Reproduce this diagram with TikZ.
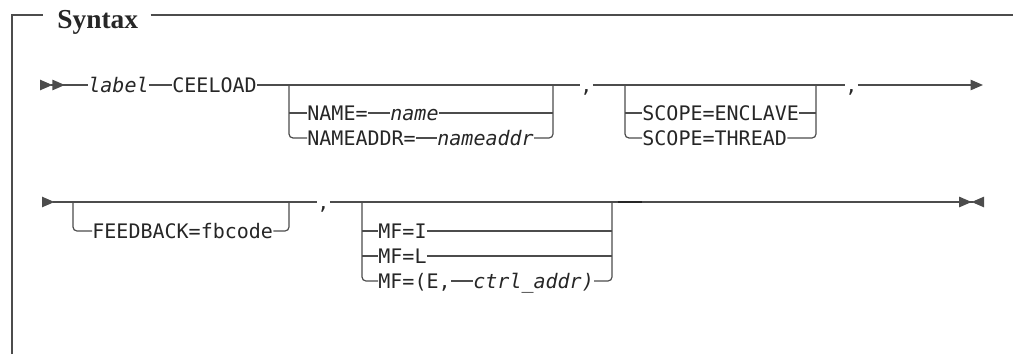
\documentclass[tikz,border=0pt]{standalone}
\usepackage{fontspec}
\newfontfamily\railfont{DejaVu Sans Mono}
\newfontfamily\titlefont{Liberation Serif}
\usetikzlibrary{arrows.meta, positioning}

\begin{document}
\begin{tikzpicture}[
x=0.5pt, y=-0.5pt,
every node/.style={inner sep=0pt, anchor=west, text height=9.3pt, text depth=2pt, text=black!85, font=\railfont\fontsize{10}{12}\selectfont},
var/.style={font=\railfont\itshape\fontsize{10}{12}\selectfont},
rail/.style={draw=black!70, line width=0.6pt},
alt/.style={rail, rounded corners=2pt},
railtip/.tip={Triangle[length=6.2pt, width=5.2pt]}
]
\useasboundingbox (0,0) rectangle (1013,354);

% frame
\coordinate (fbot) at (12,354);
\coordinate (ftop) at (12,15);
\coordinate (fright) at (1013,15);
\node (title) [font=\titlefont\bfseries\fontsize{13.7}{16}\selectfont, text height=15pt, text depth=2pt] at (57,15) {Syntax};
\draw[rail] (fbot) -- (ftop) -- ([xshift=-7pt]title.west);
\draw[rail] ([xshift=6pt]title.east) -- (fright);

% first line
\coordinate (s1) at (40,85);
\node (lbl) [var] at (88,85) {label};
\node (ceeload) at (172,85) {CEELOAD};
\coordinate (g1l) at (289,85);
\coordinate (g1r) at (553,85);
\node (name) at (307,113) {NAME=};
\node (namev) [var] at (390,113) {name};
\node (nameaddr) at (307,138) {NAMEADDR=};
\node (nameaddrv) [var] at (437,138) {nameaddr};
\node (c1) at (580,85) {,};
\coordinate (g2l) at (625,85);
\coordinate (g2r) at (816,85);
\node (encl) at (642,113) {SCOPE=ENCLAVE};
\node (thread) at (642,138) {SCOPE=THREAD};
\node (c2) at (845,85) {,};
\coordinate (e1) at (983,85);

\draw[rail, {railtip[reversed] railtip[reversed]}-] (s1) -- (lbl);
\draw[rail] (lbl) -- (ceeload);
\draw[rail] (ceeload) -- (c1);
\draw[rail] (g1l |- name) -- (name);
\draw[alt] (g1l) |- (nameaddr);
\draw[rail] (name) -- (namev);
\draw[rail] (namev) -- (g1r |- namev);
\draw[rail] (nameaddr) -- (nameaddrv);
\draw[alt] (nameaddrv) -| (g1r);
\draw[rail] (c1) -- (c2);
\draw[rail] (g2l |- encl) -- (encl);
\draw[alt] (g2l) |- (thread);
\draw[rail] (encl) -- (g2r |- encl);
\draw[alt] (thread) -| (g2r);
\draw[rail, -{railtip[]}] (c2) -- (e1);

% second line
\coordinate (s2) at (42,202);
\coordinate (g3l) at (73,202);
\coordinate (g3r) at (289,202);
\node (fb) at (92,231) {FEEDBACK=fbcode};
\node (c3) at (317,202) {,};
\coordinate (g4l) at (362,202);
\coordinate (g4r) at (612,202);
\node (mfi) at (378,231) {MF=I};
\node (mfl) at (378,256) {MF=L};
\node (mfe) at (378,281) {MF=(E,};
\node (ctrl) [var] at (473,281) {ctrl\_addr)};
\coordinate (d1) at (618,202);
\coordinate (d2) at (642,202);
\coordinate (e2) at (984,202);

\draw[rail, {railtip[reversed]}-] (s2) -- (c3);
\draw[alt] (g3l) |- (fb);
\draw[alt] (fb) -| (g3r);
\draw[rail, -{railtip[] railtip[reversed]}] (c3) -- (e2);
\draw[rail] (g4l |- mfi) -- (mfi);
\draw[rail] (g4l |- mfl) -- (mfl);
\draw[alt] (g4l) |- (mfe);
\draw[rail] (mfi) -- (g4r |- mfi);
\draw[rail] (mfl) -- (g4r |- mfl);
\draw[rail] (mfe) -- (ctrl);
\draw[alt] (ctrl) -| (g4r);
\draw[rail, line width=1.1pt, draw=black!85] (d1) -- (d2);

\end{tikzpicture}
\end{document}
